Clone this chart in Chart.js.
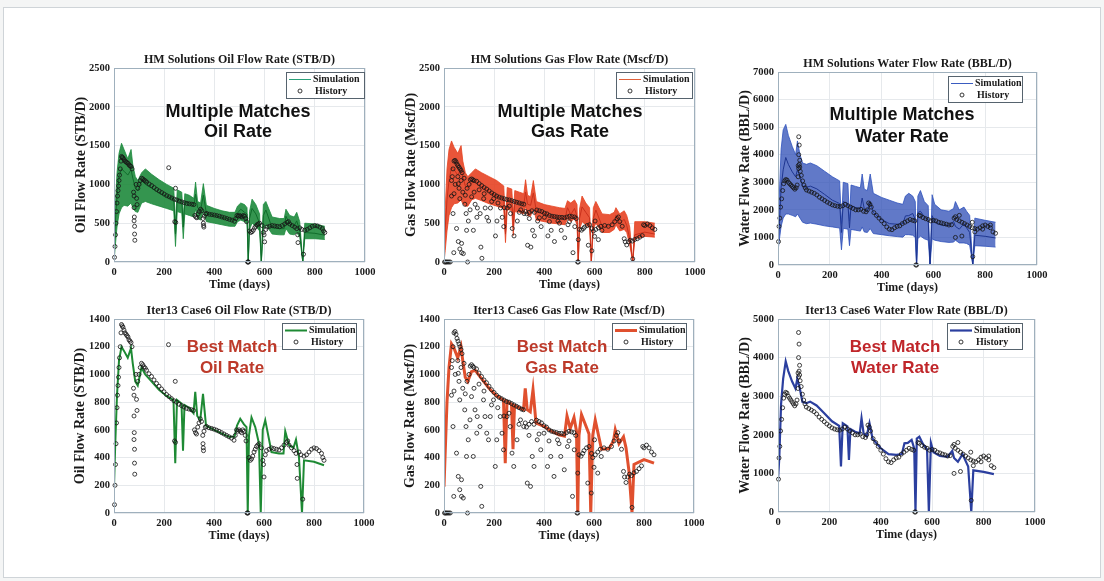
<!DOCTYPE html>
<html>
<head>
<meta charset="utf-8">
<script src="https://cdn.jsdelivr.net/npm/chart.js@4.4.0/dist/chart.umd.min.js"></script>
<style>
  html, body { margin: 0; padding: 0; width: 1104px; height: 581px; overflow: hidden; background: #f4f5f5; }
  #frame { position: absolute; left: 3px; top: 7px; width: 1096px; height: 569px; background: #fff; border: 1px solid #cfd4d8; }
  canvas { position: absolute; }
</style>
</head>
<body>
<div id="frame"></div>
<script>
// simulation time steps (days), shared by every simulated curve
const simDays = [0,5,12,20,30,40,55,68,75,85, 95,110,125,150,180,210,238,245,252,270,
  276,282,300,318,325,333,345,356,368,400, 430,460,482,492,505,520,530,535,540,550,
  565,580,587,595,605,630,660,678,685,700, 718,728,740,752,760,800,840];

// best match (Iter13 Case6)
const oilBest = [190,500,850,1100,1200,1170,1120,1190,1080,950, 920,1050,1000,950,890,845,815,360,815,790,
  450,780,760,720,875,700,670,860,630,600, 575,550,550,630,680,640,620,0,560,690,
  620,500,0,600,670,440,430,430,590,490, 470,530,400,0,380,370,345];
const gasBest = [190,450,800,1050,1220,1190,1120,1200,1100,980, 950,1020,1030,970,900,845,815,360,805,785,
  460,775,760,745,900,745,730,890,650,625, 590,565,555,700,610,690,590,0,560,710,
  640,570,0,560,670,460,465,520,600,500, 550,470,300,0,350,385,360];
const waterBest = [840,1400,2800,3450,3900,3650,3380,3200,3450,3200, 2850,2820,2860,2760,2560,2350,2230,1180,2300,2220,
  1350,2150,2080,2040,2430,2040,1960,2300,1900,1650, 1500,1480,1500,1780,1790,1870,1650,0,1900,1950,
  1750,1620,0,1790,1550,1450,1430,1580,1400,1300, 1500,1350,1180,0,1080,1040,980];

// spread of the HM solutions (upper / lower envelope)
const oilHigh = [200,700,1150,1400,1530,1450,1330,1450,1250,1100, 1050,1150,1200,1130,1060,1000,950,500,930,900,
  550,880,860,820,1030,780,760,1010,730,690, 660,640,640,720,760,740,700,0,650,810,
  740,620,0,740,780,580,560,560,680,600, 580,640,520,0,500,490,460];
const oilLow = [0,200,450,620,700,730,720,760,700,650, 640,760,780,750,720,690,660,200,650,630,
  300,620,600,580,680,560,540,660,520,500, 480,460,460,520,540,520,500,0,420,500,
  460,400,0,420,480,360,350,350,430,360, 350,380,320,0,300,300,290];
const gasHigh = [200,700,1200,1450,1560,1480,1400,1500,1300,1150, 1100,1150,1200,1150,1100,1050,980,520,960,940,
  600,920,900,880,1060,860,840,1050,780,740, 720,700,690,790,760,800,740,0,680,850,
  760,700,0,700,780,620,610,640,700,620, 660,600,450,0,520,520,500];
const gasLow = [0,150,400,600,700,750,760,800,750,720, 720,800,820,790,750,720,690,250,680,660,
  340,650,640,620,720,600,590,700,540,520, 500,490,480,560,520,560,480,0,420,520,
  480,440,0,430,500,380,380,420,480,400, 420,380,220,0,300,330,320];
const waterHigh = [900,2500,4200,4900,5100,4700,4300,4000,4500,4000, 3700,3650,3700,3600,3400,3200,3050,1500,3000,2950,
  1600,2900,2850,2800,3300,2750,2700,3300,2600,2450, 2350,2250,2200,2500,2600,2500,2300,0,2500,2700,
  2300,2150,0,2550,2200,2000,1950,2050,2300,2000, 2100,1950,1800,0,1700,1620,1550];
const waterLow = [500,900,1400,1700,1850,1850,1800,1750,1850,1700, 1550,1500,1520,1480,1420,1380,1340,550,1330,1300,
  700,1290,1260,1230,1380,1200,1180,1320,1140,1100, 1060,1030,1010,1100,1100,1080,1000,0,950,1050,
  950,900,0,950,900,850,820,830,900,800, 800,780,720,0,700,680,650];

// measured history [day, rate]
const oilHistory = [
  [2,60],[4,200],[6,350],[8,500],[10,650],[12,760],[14,850],[16,920],[18,980],[20,1050],[22,1120],[25,1200],[28,1300],
  [30,1360],[33,1350],[36,1340],[40,1320],[44,1300],[48,1290],[52,1280],[56,1270],[60,1250],[64,1240],[68,1230],[72,1200],
  [78,900],[80,850],[80,700],[80,530],[81,580],[82,460],[82,360],[83,280],[88,1000],[90,820],[92,740],[95,950],
  [100,1000],[105,1050],[110,1080],[115,1070],[120,1055],[125,1045],[130,1030],[140,1005],[150,985],[160,960],[170,935],
  [180,915],[190,895],[200,875],[210,855],[220,840],[230,825],[240,810],[250,800],[260,785],[270,775],[280,765],[290,755],
  [300,750],[310,745],[318,740],[218,1215],[245,950],[242,520],[246,510],
  [322,600],[326,580],[330,570],[335,620],[340,650],[345,680],[350,660],[355,560],[356,500],[357,470],[358,450],[360,590],
  [365,620],[370,625],[380,615],[390,610],[400,605],[410,598],[420,590],[430,580],[440,570],[450,560],[460,550],[470,540],
  [480,525],[485,560],[490,600],[495,590],[500,600],[505,590],[510,580],[515,600],[520,590],[525,560],[528,520],
  [532,0],[534,0],[536,0],[540,400],[545,380],[550,390],[555,410],[560,440],[565,460],[570,480],[575,490],[580,500],
  [590,470],[595,380],[598,350],[600,260],[605,420],[610,450],[620,460],[630,470],[640,465],[650,460],[660,455],[670,470],
  [680,490],[690,510],[695,520],[700,490],[710,470],[720,450],[728,430],[732,350],[733,250],[740,440],[748,420],[755,100],
  [760,410],[770,420],[780,440],[790,460],[800,470],[810,465],[820,450],[830,430],[835,400],[840,380]
];
const gasHistory = [
  [2,0],[6,0],[10,0],[15,0],[20,0],[25,0],[94,0],
  [30,1050],[33,1100],[36,1200],[40,1300],[44,1310],[48,1290],[52,1260],[56,1240],[60,1220],[64,1200],[68,1180],[72,1150],
  [100,1000],[105,1060],[110,1070],[115,1060],[120,1050],[130,1040],[140,1010],[150,985],[160,960],[170,940],[180,915],
  [190,890],[200,870],[210,850],[220,835],[230,825],[240,815],[250,805],[260,800],[270,790],[280,780],[290,770],[300,760],
  [310,750],[318,745],[325,650],[330,620],[340,640],[350,660],[360,640],[370,670],[380,660],[390,650],[400,630],[410,620],
  [420,600],[430,590],[440,585],[450,580],[460,575],[470,575],[480,570],[490,580],[500,590],[510,585],[520,580],[527,560],
  [532,0],[535,0],[540,420],[548,410],[555,430],[560,450],[570,470],[580,480],[590,430],[595,400],[600,330],[605,420],
  [615,440],[625,460],[640,470],[655,460],[670,480],[680,520],[690,560],[695,580],[700,520],[710,460],[718,300],[722,260],
  [728,220],[735,260],[742,280],[750,270],[752,40],[760,290],[770,300],[780,320],[790,340],[795,480],[800,470],[810,490],
  [820,470],[830,440],[840,420],
  [36,624],[39,120],[50,432],[57,264],[63,168],[70,120],[77,108],[70,240],[63,816],[57,1008],[83,744],[88,624],[90,408],
  [97,528],[104,672],[110,840],[117,408],[124,744],[131,576],[133,696],[144,624],[147,192],[151,48],[158,816],[164,696],
  [171,576],[178,528],[185,696],[198,816],[205,336],[211,528],[225,696],[232,576],[238,456],[252,696],[265,624],[272,432],
  [279,336],[292,528],[306,672],[319,624],[333,216],[346,192],[353,408],[360,336],[373,528],[387,456],[400,576],[414,336],
  [427,408],[440,264],[454,528],[467,408],[481,312],[494,480],[514,120],[521,456],[535,288],[575,216],[589,144],[602,528],
  [615,288],[629,408],
  [30,850],[40,880],[45,1000],[55,1100],[60,950],[68,1050],[75,900],[80,1080],[85,860],[92,950],[120,900],[140,930],
  [160,880],[190,780],[215,760],[240,700],[260,720],[300,640],[340,560],[380,570],[420,520],[460,500],[500,520]
];
const waterHistory = [
  [2,850],[4,1400],[7,1700],[10,2100],[14,2400],[18,2700],[22,2950],[26,3050],[30,3100],[35,3080],[40,3000],[45,2950],
  [50,2900],[55,2850],[60,2800],[65,2750],[70,2800],[74,2900],[78,3200],[80,3500],[82,3650],[84,3550],[86,3400],[90,3250],
  [95,3050],[100,2900],[105,2800],[110,2720],[120,2680],[130,2640],[140,2600],[150,2540],[160,2460],[170,2400],[180,2340],
  [190,2280],[200,2230],[210,2180],[220,2150],[230,2130],[240,2120],[250,2150],[260,2200],[270,2150],[280,2100],[290,2050],
  [300,2000],[310,2000],[320,2020],[330,1950],[340,1930],[345,2000],[350,2250],[355,2200],[360,2100],[370,1900],[380,1800],
  [390,1700],[400,1600],[410,1500],[420,1380],[430,1300],[440,1280],[450,1350],[460,1400],[470,1420],[480,1500],[490,1550],
  [500,1600],[510,1650],[520,1620],[528,1600],[532,0],[535,0],[545,1800],[550,1780],[560,1720],[570,1680],[580,1650],
  [590,1600],[600,1620],[610,1600],[620,1550],[630,1530],[640,1500],[650,1480],[660,1450],[670,1460],[680,1700],[685,1750],
  [690,1650],[700,1600],[710,1550],[720,1500],[730,1450],[740,1400],[750,1350],[760,1320],[770,1300],[780,1350],[790,1420],
  [800,1450],[810,1400],[820,1350],[830,1200],[840,1150],
  [80,4650],[82,4350],[80,4000],[84,3800],[78,3600],[685,1000],[710,1050],[750,1550],[790,1300],[700,1800],[760,1200],
  [820,1450],[752,300]
];

const xTicks = [0, 200, 400, 600, 800, 1000];

function sim(values) {
  return simDays.map((d, i) => ({ x: d, y: values[i] }));
}
function hist(pairs) {
  return pairs.map(p => ({ x: p[0], y: p[1] }));
}

// title, box, inset legend and the big note text
const panelDecor = {
  id: 'panelDecor',
  afterDraw(chart, args, o) {
    const { ctx, chartArea: a } = chart;
    ctx.save();
    ctx.strokeStyle = '#9fb0bd';
    ctx.lineWidth = 1;
    ctx.strokeRect(a.left + 0.5, a.top + 0.5, a.width - 1, a.height - 1);

    ctx.textAlign = 'center';
    ctx.textBaseline = 'middle';
    ctx.fillStyle = '#1a1a1a';
    ctx.font = 'bold 12px "Liberation Serif"';
    ctx.fillText(o.title, (a.left + a.right) / 2, a.top - 8);

    ctx.font = 'bold ' + o.noteSize + 'px "Liberation Sans"';
    ctx.fillStyle = o.noteColor;
    o.note.forEach((t, i) => ctx.fillText(t, a.left + o.noteX, a.top + o.noteY[i]));

    // legend
    const lw = o.legendW, lh = 26;
    const lx = a.right - o.legendInset - lw, ly = a.top + 4;
    ctx.fillStyle = '#fff';
    ctx.fillRect(lx, ly, lw, lh);
    ctx.strokeStyle = '#56636e';
    ctx.lineWidth = 1;
    ctx.strokeRect(Math.round(lx) + 0.5, Math.round(ly) + 0.5, lw, lh);
    ctx.strokeStyle = o.lineColor;
    ctx.lineWidth = o.lineWidth;
    ctx.beginPath();
    ctx.moveTo(lx + 3, ly + 7.5);
    ctx.lineTo(lx + 25, ly + 7.5);
    ctx.stroke();
    ctx.strokeStyle = '#222';
    ctx.lineWidth = 0.9;
    ctx.beginPath();
    ctx.arc(lx + 14, ly + 19, 2, 0, Math.PI * 2);
    ctx.stroke();
    ctx.fillStyle = '#1a1a1a';
    ctx.textAlign = 'left';
    ctx.font = 'bold 10px "Liberation Serif"';
    ctx.fillText('Simulation', lx + 27, ly + 7.5);
    ctx.fillText('History', lx + 29, ly + 19);
    ctx.restore();
  }
};

const tickFont = { family: 'Liberation Serif', weight: 'bold', size: 10.5 };
const axisFont = { family: 'Liberation Serif', weight: 'bold', size: 14 };

function makePanel(p) {
  const cv = document.createElement('canvas');
  cv.width = p.w;
  cv.height = p.h;
  cv.style.left = p.left + 'px';
  cv.style.top = p.top + 'px';
  document.body.appendChild(cv);

  const datasets = [];
  if (p.high) {
    datasets.push({ label: 'low', data: sim(p.low), borderColor: p.edge, borderWidth: 0.8,
      pointRadius: 0, fill: false, order: 3 });
    datasets.push({ label: 'high', data: sim(p.high), borderColor: p.edge, borderWidth: 0.8,
      pointRadius: 0, fill: '-1', backgroundColor: p.fill, order: 2 });
  }
  datasets.push({ label: 'Simulation', data: sim(p.best), borderColor: p.line, borderWidth: p.bestWidth,
    pointRadius: 0, fill: false, order: 1 });
  datasets.push({ label: 'History', data: hist(p.history), showLine: false, pointRadius: 2,
    pointBorderWidth: 0.9, pointBorderColor: 'rgba(22,22,22,0.9)', pointBackgroundColor: 'rgba(0,0,0,0)',
    clip: false, order: 0 });

  new Chart(cv, {
    type: 'line',
    data: { datasets },
    options: {
      responsive: false,
      animation: false,
      events: [],
      layout: { padding: { top: 20, right: 14, left: 0, bottom: 0 } },
      plugins: {
        legend: { display: false },
        tooltip: { enabled: false },
        panelDecor: p.decor
      },
      scales: {
        x: {
          type: 'linear', min: 0, max: 1000,
          afterBuildTicks: s => { s.ticks = xTicks.map(v => ({ value: v })); },
          ticks: { font: tickFont, color: '#1a1a1a', padding: 3.5, maxRotation: 0, callback: v => String(v) },
          grid: { color: '#e6e9ec', drawTicks: false },
          border: { display: false },
          title: { display: true, text: 'Time (days)', font: { family: 'Liberation Serif', weight: 'bold', size: 12 },
            color: '#1a1a1a', padding: { top: 0, bottom: 1.8 } },
          afterFit: s => { s.height = 32; }
        },
        y: {
          type: 'linear', min: 0, max: p.ymax,
          ticks: { stepSize: p.ystep, font: tickFont, color: '#1a1a1a', padding: 4, callback: v => String(v) },
          grid: { color: '#e6e9ec', drawTicks: false },
          border: { display: false },
          title: { display: true, text: p.ytitle, font: axisFont, color: '#1a1a1a',
            padding: { top: p.ytPad, bottom: 0 } },
          afterFit: s => { s.width = p.yw; }
        }
      }
    },
    plugins: [panelDecor]
  });
}

const topNote = { noteSize: 18, noteColor: '#111' };
const oilC = { edge: '#1a8a3c', fill: 'rgba(30,138,60,0.9)' };
const gasC = { edge: '#e4431f', fill: 'rgba(230,62,30,0.88)' };
const watC = { edge: '#2f52bd', fill: 'rgba(44,76,182,0.75)' };

makePanel({ left: 60, top: 48, w: 319, h: 246, yw: 54, ytPad: 12.6, ymax: 2500, ystep: 500,
  ytitle: 'Oil Flow Rate (STB/D)', best: oilBest, high: oilHigh, low: oilLow, history: oilHistory,
  line: '#0f6b2a', bestWidth: 1, edge: oilC.edge, fill: oilC.fill,
  decor: Object.assign({ title: 'HM Solutions Oil Flow Rate (STB/D)', note: ['Multiple Matches', 'Oil Rate'],
    noteX: 124, noteY: [44, 64], legendW: 78, legendInset: 1, lineColor: '#2aa07a', lineWidth: 1 }, topNote) });

makePanel({ left: 390, top: 48, w: 319, h: 246, yw: 54, ytPad: 12.6, ymax: 2500, ystep: 500,
  ytitle: 'Gas Flow Rate (Mscf/D)', best: gasBest, high: gasHigh, low: gasLow, history: gasHistory,
  line: '#c9301a', bestWidth: 1, edge: gasC.edge, fill: gasC.fill,
  decor: Object.assign({ title: 'HM Solutions Gas Flow Rate (Mscf/D)', note: ['Multiple Matches', 'Gas Rate'],
    noteX: 126, noteY: [44, 64], legendW: 76, legendInset: 3, lineColor: '#e0603a', lineWidth: 1 }, topNote) });

makePanel({ left: 720, top: 52, w: 331, h: 245, yw: 58, ytPad: 16.6, ymax: 7000, ystep: 1000,
  ytitle: 'Water Flow Rate (BBL/D)', best: waterBest, high: waterHigh, low: waterLow, history: waterHistory,
  line: '#1d3590', bestWidth: 1, edge: watC.edge, fill: watC.fill,
  decor: Object.assign({ title: 'HM Solutions Water Flow Rate (BBL/D)', note: ['Multiple Matches', 'Water Rate'],
    noteX: 124, noteY: [43, 65], legendW: 74, legendInset: 15, lineColor: '#3a5cc0', lineWidth: 1 }, topNote) });

makePanel({ left: 60, top: 299, w: 318, h: 246, yw: 54, ytPad: 11.6, ymax: 1400, ystep: 200,
  ytitle: 'Oil Flow Rate (STB/D)', best: oilBest, history: oilHistory, line: '#1e8a34', bestWidth: 2,
  decor: { title: 'Iter13 Case6 Oil Flow Rate (STB/D)', note: ['Best Match', 'Oil Rate'], noteSize: 17,
    noteColor: '#bd3a2a', noteX: 118, noteY: [28, 49], legendW: 74, legendInset: 8, lineColor: '#1e8a34', lineWidth: 2 } });

makePanel({ left: 390, top: 299, w: 318, h: 246, yw: 54, ytPad: 11.6, ymax: 1400, ystep: 200,
  ytitle: 'Gas Flow Rate (Mscf/D)', best: gasBest, history: gasHistory, line: '#e0502e', bestWidth: 3,
  decor: { title: 'Iter13 Case6 Gas Flow Rate (Mscf/D)', note: ['Best Match', 'Gas Rate'], noteSize: 17,
    noteColor: '#bd3a2a', noteX: 118, noteY: [28, 49], legendW: 74, legendInset: 8, lineColor: '#e0502e', lineWidth: 3 } });

makePanel({ left: 720, top: 299, w: 329, h: 245, yw: 58, ytPad: 16.6, ymax: 5000, ystep: 1000,
  ytitle: 'Water Flow Rate (BBL/D)', best: waterBest, history: waterHistory, line: '#2b3f9f', bestWidth: 2.2,
  decor: { title: 'Iter13 Case6 Water Flow Rate (BBL/D)', note: ['Best Match', 'Water Rate'], noteSize: 17,
    noteColor: '#c0262a', noteX: 117, noteY: [28, 49], legendW: 75, legendInset: 13, lineColor: '#2b3f9f', lineWidth: 2.2 } });
</script>
</body>
</html>
